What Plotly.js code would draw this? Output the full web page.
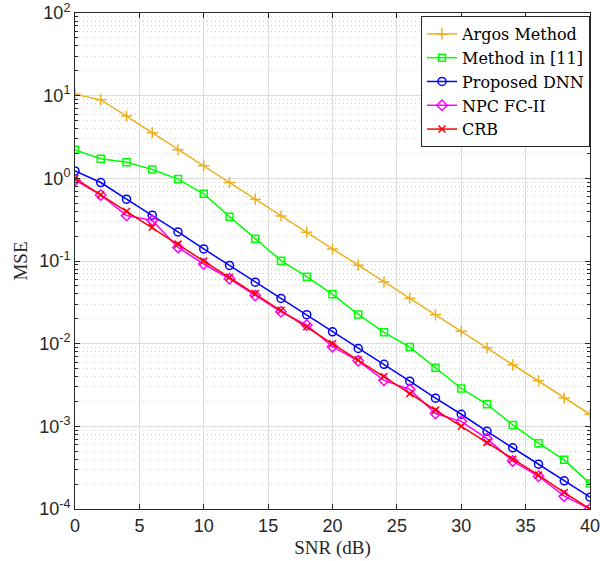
<!DOCTYPE html>
<html>
<head>
<meta charset="utf-8">
<script src="https://cdn.plot.ly/plotly-3.0.1.min.js"></script>
<style>html,body{margin:0;padding:0;background:#fff;}#chart{width:600px;height:561px;}</style>
</head>
<body>
<div id="chart"></div>
<script>
const snr = [0,2,4,6,8,10,12,14,16,18,20,22,24,26,28,30,32,34,36,38,40];
const argos = [10.4,8.9,5.66,3.55,2.21,1.42,0.89,0.56,0.35,0.223,0.14,0.089,0.056,0.0355,0.0223,0.0141,0.0089,0.00555,0.00355,0.0022,0.0014];
const method11 = [2.21,1.73,1.57,1.28,0.98,0.65,0.344,0.186,0.101,0.0646,0.0395,0.0226,0.0137,0.0091,0.0051,0.00287,0.00185,0.00104,0.000625,0.000393,0.000203];
const proposed = [1.23,0.89,0.56,0.358,0.225,0.14,0.0885,0.0555,0.0353,0.0224,0.0139,0.00877,0.00562,0.00352,0.00219,0.0014,0.00087,0.00055,0.000348,0.000219,0.000139];
const npc = [0.95,0.63,0.355,0.31,0.146,0.092,0.061,0.0382,0.0243,0.0168,0.0092,0.0062,0.0036,0.0028,0.00143,0.00115,0.00071,0.00038,0.000249,0.000143,0.0001];
const crb = [1.0,0.631,0.398,0.256,0.16,0.1,0.0635,0.0403,0.0253,0.016,0.01,0.0064,0.0040,0.0025,0.00157,0.001,0.00064,0.0004,0.000257,0.000158,0.0001];
const yTickVals = [1e-4,1e-3,1e-2,1e-1,1,10,100];
const yTickText = ['10<sup>-4</sup>','10<sup>-3</sup>','10<sup>-2</sup>','10<sup>-1</sup>','10<sup>0</sup>','10<sup>1</sup>','10<sup>2</sup>'];
const names = ['Argos Method','Method in [11]','Proposed DNN','NPC FC-II','CRB'];

function tr(y, name, color, symbol, size) {
  return {x: snr, y: y, name: name, type: 'scatter', mode: 'lines+markers',
    line: {color: color, width: 1.5},
    marker: {symbol: symbol, size: size, color: color, line: {color: color, width: 1.5}}};
}
const data = [
  tr(argos, names[0], '#EDB120', 'cross-thin', 8),
  tr(method11, names[1], '#00FF00', 'square-open', 7),
  tr(proposed, names[2], '#0000FF', 'circle-open', 8),
  tr(npc, names[3], '#FF00FF', 'diamond-open', 8),
  tr(crb, names[4], '#FF0000', 'x-thin', 7)
];
const axcol = '#262626';
const serif = 'Liberation Serif, Times New Roman, serif';
const layout = {
  width: 600, height: 561,
  margin: {l: 75, r: 10, t: 13, b: 52},
  paper_bgcolor: '#fff', plot_bgcolor: '#fff',
  font: {family: 'Liberation Sans, Arial, sans-serif', color: axcol, size: 17},
  showlegend: true,
  legend: {x: 1, xanchor: 'right', y: 0.994, yanchor: 'top',
    bgcolor: '#fff', bordercolor: axcol, borderwidth: 1,
    font: {family: 'DejaVu Serif, serif', size: 16, color: '#000'},
    tracegroupgap: 0},
  xaxis: {range: [0, 40], tickvals: [0,5,10,15,20,25,30,35,40],
    showline: true, linecolor: axcol, linewidth: 1, mirror: 'ticks',
    ticks: 'inside', ticklen: 5, tickcolor: axcol, ticklabeloverflow: 'allow',
    showgrid: true, gridcolor: '#dcdcdc', gridwidth: 1, zeroline: false,
    tickfont: {size: 18, color: axcol},
    title: {text: 'SNR (dB)', font: {family: serif, size: 19, color: axcol}, standoff: 6}},
  yaxis: {type: 'log', range: [-4, 2], tickvals: yTickVals, ticktext: yTickText,
    showline: true, linecolor: axcol, linewidth: 1, mirror: 'ticks',
    ticks: 'inside', ticklen: 5, tickcolor: axcol, ticklabeloverflow: 'allow',
    showgrid: true, gridcolor: '#dcdcdc', gridwidth: 1, zeroline: false,
    tickfont: {size: 18, color: axcol},
    minor: {dtick: 'D1', showgrid: true, griddash: '1px,3px', gridcolor: '#d0d0d0', gridwidth: 1, ticks: 'inside', ticklen: 3, tickcolor: axcol},
    title: {text: 'MSE', font: {family: serif, size: 19, color: axcol}, standoff: 6}}
};
Plotly.newPlot('chart', data, layout, {displayModeBar: false, staticPlot: true});
</script>
</body>
</html>
